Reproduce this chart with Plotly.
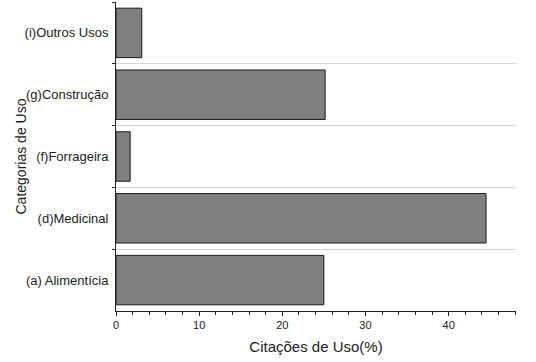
import plotly.graph_objects as go

categories = ["(a) Alimentícia", "(d)Medicinal", "(f)Forrageira", "(g)Construção", "(i)Outros Usos"]
values = [25.0, 44.5, 1.7, 25.15, 3.1]
x_ticks = [0, 10, 20, 30, 40]

positions = list(range(len(categories)))
boundaries = [p + 0.5 for p in positions]

fig = go.Figure(go.Bar(
    x=values, y=positions, orientation="h", width=0.8,
    marker=dict(color="#808080", line=dict(color="#1a1a1a", width=1)),
))

font = "Liberation Sans, Arial, sans-serif"
fig.update_layout(
    width=536, height=362,
    margin=dict(l=116, r=20, t=2, b=51),
    plot_bgcolor="white", paper_bgcolor="white",
    showlegend=False,
    font=dict(family=font, color="#222", size=12),
    xaxis=dict(
        range=[0, 48.1], tickvals=x_ticks, showgrid=False, zeroline=False,
        showline=True, linecolor="#222", linewidth=1,
        ticks="outside", ticklen=4, tickcolor="#222",
        minor=dict(dtick=2, tick0=0, ticks="outside", ticklen=3, tickcolor="#222"),
        tickfont=dict(size=11),
        title=dict(text="Citações de Uso(%)", font=dict(size=15), standoff=11),
    ),
    yaxis=dict(
        range=[-0.5, 4.5], tickvals=positions, ticktext=categories,
        showgrid=False, zeroline=False, showline=True, linecolor="#222", linewidth=1,
        ticks="", ticklen=0, ticklabelstandoff=4,
        minor=dict(tickvals=boundaries, showgrid=True, gridcolor="#d4d4d4", gridwidth=1,
                   ticks="outside", ticklen=3, tickcolor="#222"),
        tickfont=dict(size=13),
    ),
    annotations=[dict(
        text="Categorias de Uso", textangle=-90, showarrow=False,
        xref="paper", yref="paper", x=(20 - 116) / 400, y=0.5,
        xanchor="center", yanchor="middle", font=dict(size=14),
    )],
)

fig.write_html("out.html")
